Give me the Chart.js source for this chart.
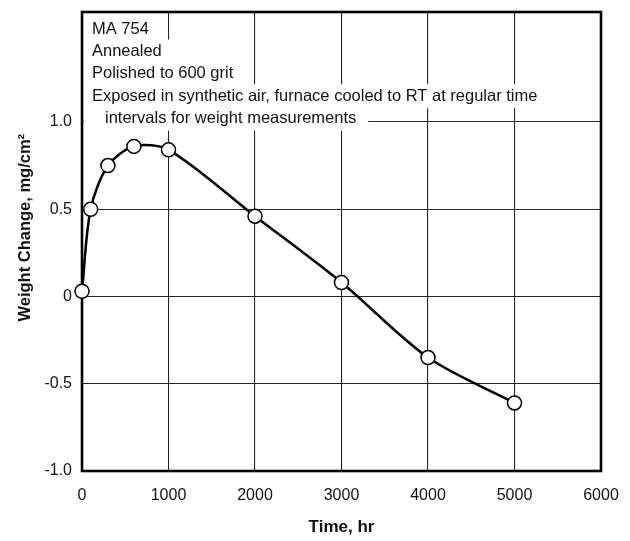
<!DOCTYPE html>
<html>
<head>
<meta charset="utf-8">
<script src="https://cdn.jsdelivr.net/npm/chart.js@4.4.1/dist/chart.umd.min.js"></script>
<style>
  html, body { margin: 0; padding: 0; background: #fff; }
</style>
</head>
<body>
<canvas id="myChart" width="630" height="541"></canvas>
<script>
var hours = [0, 100, 300, 600, 1000, 2000, 3000, 4000, 5000];
var weightChange = [0.03, 0.5, 0.75, 0.86, 0.84, 0.46, 0.08, -0.35, -0.61];
var xTicks = [0, 1000, 2000, 3000, 4000, 5000, 6000];
var yTicks = [-1.0, -0.5, 0, 0.5, 1.0];
var notes = ['MA 754', 'Annealed', 'Polished to 600 grit',
             'Exposed in synthetic air, furnace cooled to RT at regular time',
             'intervals for weight measurements'];
var notesIndent = [0, 0, 0, 0, 13];

var sans = "'Liberation Sans', Arial, sans-serif";

// white boxed notes over the grid + the frame, before the points go on top
var notesPlugin = {
  id: 'notes',
  beforeDatasetsDraw: function(chart){
    var ctx = chart.ctx, a = chart.chartArea;
    ctx.save();
    ctx.font = '16.5px ' + sans;
    ctx.textBaseline = 'middle';
    notes.forEach(function(t, i){
      var x = a.left + 10 + notesIndent[i];
      var y = a.top + 17 + i * 22.4;
      var w = ctx.measureText(t).width;
      ctx.fillStyle = '#fff';
      ctx.fillRect(a.left + 2, y - 12, x - a.left + w + 10, 24);
      ctx.fillStyle = '#111';
      ctx.fillText(t, x, y);
    });
    ctx.strokeStyle = '#000';
    ctx.lineWidth = 2.6;
    ctx.strokeRect(a.left, a.top, a.right - a.left, a.bottom - a.top);
    ctx.restore();
  }
};

function gridColor(edges){
  return function(c){
    return (c.tick && edges.indexOf(c.tick.value) < 0) ? '#262626' : 'rgba(0,0,0,0)';
  };
}

Chart.defaults.font.family = sans;
Chart.defaults.color = '#111';

var myChart = new Chart(document.getElementById('myChart'), {
  type: 'line',
  data: {
    datasets: [{
      data: hours.map(function(h, i){ return {x: h, y: weightChange[i]}; }),
      borderColor: '#000',
      borderWidth: 2.5,
      tension: 0.3,
      pointRadius: 7,
      pointBorderWidth: 1.5,
      pointBackgroundColor: '#fff',
      pointBorderColor: '#000',
      clip: false
    }]
  },
  options: {
    responsive: false,
    animation: false,
    layout: { autoPadding: false, padding: { left: 0, top: 12, right: 29, bottom: 0 } },
    plugins: {
      legend: { display: false },
      tooltip: { enabled: false }
    },
    scales: {
      x: {
        type: 'linear',
        min: 0,
        max: 6000,
        afterBuildTicks: function(s){ s.ticks = xTicks.map(function(v){ return {value: v}; }); },
        afterFit: function(s){ s.height = 70; s.paddingLeft = 0; s.paddingRight = 0; },
        grid: { color: gridColor([0, 6000]), lineWidth: 1.1, drawTicks: false },
        border: { display: false },
        ticks: {
          font: { size: 16 },
          padding: 15,
          maxRotation: 0,
          autoSkip: false,
          callback: function(v){ return String(v); }
        },
        title: { display: true, text: 'Time, hr', font: { size: 17, weight: 'bold' }, padding: { top: 0, bottom: 3 } }
      },
      y: {
        min: -1,
        max: 1.63,
        afterBuildTicks: function(s){ s.ticks = yTicks.map(function(v){ return {value: v}; }); },
        afterFit: function(s){ s.width = 82; s.paddingTop = 0; s.paddingBottom = 0; },
        grid: { color: gridColor([-1]), lineWidth: 1.1, drawTicks: false },
        border: { display: false },
        ticks: {
          font: { size: 16 },
          padding: 10,
          callback: function(v){ return v === 0 ? '0' : v.toFixed(1); }
        },
        title: {
          display: true,
          text: '      Weight Change, mg/cm²',
          font: { size: 16.5, weight: 'bold' },
          padding: { top: 16, bottom: 0 }
        }
      }
    }
  },
  plugins: [notesPlugin]
});
</script>
</body>
</html>
